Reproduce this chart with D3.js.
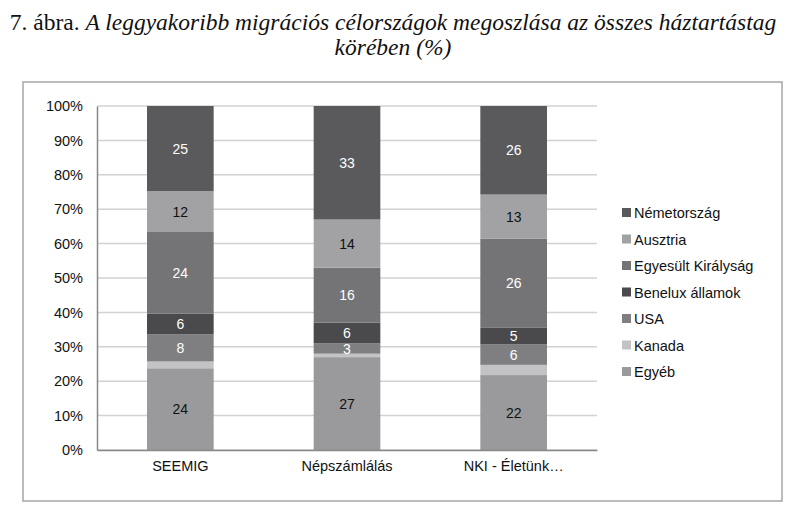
<!DOCTYPE html>
<html><head><meta charset="utf-8">
<script src="https://cdn.jsdelivr.net/npm/d3@7"></script>
<style>body{margin:0;background:#fff}svg{display:block}</style>
</head><body>
<svg id="c" width="800" height="523"></svg>
<script>
const categories = ["SEEMIG", "Népszámlálás", "NKI - Életünk…"];
const seriesNames = ["Egyéb", "Kanada", "USA", "Benelux államok", "Egyesült Királyság", "Ausztria", "Németország"];
const egyeb = [24, 27, 22];
const kanada = [2, 1, 3];
const usa = [8, 3, 6];
const benelux = [6, 6, 5];
const egyesultKiralysag = [24, 16, 26];
const ausztria = [12, 14, 13];
const nemetorszag = [25, 33, 26];
const showLabel = [true, false, true, true, true, true, true];
const yTicks = [0, 0.1, 0.2, 0.3, 0.4, 0.5, 0.6, 0.7, 0.8, 0.9, 1];
const colors = ["#9a9a9d", "#c3c3c5", "#7f7f82", "#4a4a4c", "#747477", "#a2a2a5", "#5a5a5c"];
const labelColors = ["#111", "#fff", "#fff", "#fff", "#fff", "#111", "#fff"];

const seriesVals = [egyeb, kanada, usa, benelux, egyesultKiralysag, ausztria, nemetorszag];
const rows = categories.map((c, i) => {
  const r = {cat: c};
  seriesNames.forEach((s, j) => r[s] = seriesVals[j][i]);
  return r;
});
const stacked = d3.stack().keys(seriesNames).offset(d3.stackOffsetExpand)(rows);
const sans = "Liberation Sans, Arial, sans-serif";

const svg = d3.select("#c");
// outer frame
svg.append("rect").attr("x", 23).attr("y", 82).attr("width", 759).attr("height", 419)
  .attr("fill", "none").attr("stroke", "#a6a6a6").attr("stroke-width", 1.5);

// title
const t = svg.append("text").attr("x", 393).attr("y", 30).attr("text-anchor", "middle")
  .attr("font-family", "Liberation Serif, serif").attr("font-size", 23.5).attr("fill", "#111");
t.append("tspan").text("7. ábra. ");
t.append("tspan").attr("font-style", "italic").text("A leggyakoribb migrációs célországok megoszlása az összes háztartástag");
svg.append("text").attr("x", 393).attr("y", 55).attr("text-anchor", "middle")
  .attr("font-family", "Liberation Serif, serif").attr("font-size", 23.5).attr("font-style", "italic")
  .attr("fill", "#111").text("körében (%)");

const x = d3.scaleBand().domain(categories).range([97, 597]).paddingInner(0.6).paddingOuter(0.3);
const y = d3.scaleLinear().domain([0, 1]).range([450, 106]);

// gridlines
svg.append("g").selectAll("line").data(yTicks).join("line")
  .attr("x1", 97).attr("x2", 597).attr("y1", d => y(d)).attr("y2", d => y(d))
  .attr("stroke", "#d2d2d2").attr("stroke-width", 1.5);

// bars
const g = svg.append("g");
stacked.forEach((s, j) => {
  g.append("g").selectAll("rect").data(s).join("rect")
    .attr("x", d => x(d.data.cat)).attr("width", x.bandwidth())
    .attr("y", d => y(d[1])).attr("height", d => y(d[0]) - y(d[1]))
    .attr("fill", colors[j]);
  if (showLabel[j]) {
    g.append("g").selectAll("text").data(s).join("text")
      .attr("x", d => x(d.data.cat) + x.bandwidth() / 2)
      .attr("y", d => (y(d[0]) + y(d[1])) / 2 + 5)
      .attr("text-anchor", "middle").attr("font-family", sans)
      .attr("font-size", 14).attr("fill", labelColors[j])
      .text(d => d.data[seriesNames[j]]);
  }
});

// axes
const yAxis = d3.axisLeft(y).tickValues(yTicks).tickFormat(d3.format(".0%")).tickSize(0).tickPadding(14);
const ya = svg.append("g").attr("transform", "translate(97,0)").call(yAxis);
ya.select(".domain").attr("stroke", "#888").attr("stroke-width", 1.5);
ya.selectAll("text").attr("font-family", sans).attr("font-size", 14.5).attr("fill", "#111");

const xAxis = d3.axisBottom(x).tickSize(0).tickPadding(11);
const xa = svg.append("g").attr("transform", "translate(0,450)").call(xAxis);
xa.select(".domain").attr("stroke", "#888").attr("stroke-width", 1.5);
xa.selectAll("text").attr("font-family", sans).attr("font-size", 14.5).attr("fill", "#111");

// legend
const legendOrder = seriesNames.slice().reverse();
const lg = svg.append("g").selectAll("g").data(legendOrder).join("g")
  .attr("transform", (d, i) => `translate(622,${213 + i * 26.5})`);
lg.append("rect").attr("x", 0).attr("y", -5).attr("width", 9).attr("height", 9)
  .attr("fill", d => colors[seriesNames.indexOf(d)]);
lg.append("text").attr("x", 12).attr("y", 5).attr("font-family", sans)
  .attr("font-size", 14.5).attr("fill", "#111").text(d => d);
</script>
</body></html>
